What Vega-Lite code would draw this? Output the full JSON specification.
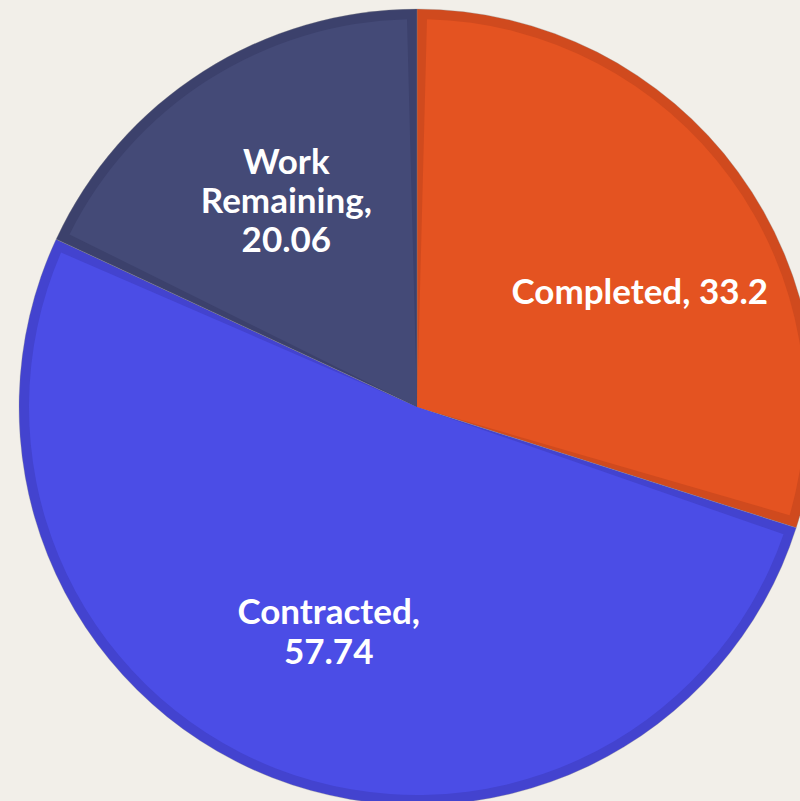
{
  "$schema": "https://vega.github.io/schema/vega-lite/v6.json",
  "width": 834,
  "height": 814,
  "autosize": {"type": "none"},
  "padding": 0,
  "background": "#F2EFE9",
  "config": {"view": {"stroke": null}},
  "data": {
    "values": [
      {"k": 1, "cat": "Completed", "value": 33.2, "label": "Completed, 33.2"},
      {"k": 2, "cat": "Contracted", "value": 57.74, "label": "Contracted,\n57.74"},
      {"k": 3, "cat": "Work Remaining", "value": 20.06, "label": "Work\nRemaining,\n20.06"}
    ]
  },
  "encoding": {
    "theta": {"field": "value", "type": "quantitative", "stack": true},
    "order": {"field": "k", "type": "quantitative"}
  },
  "resolve": {"scale": {"color": "independent"}},
  "layer": [
    {
      "mark": {"type": "arc", "radius": 398, "stroke": "#8a8a8a", "strokeWidth": 0.6, "strokeOpacity": 0.5},
      "encoding": {
        "color": {
          "field": "cat", "type": "nominal",
          "scale": {"domain": ["Completed", "Contracted", "Work Remaining"], "range": ["#D04A1E", "#4343CF", "#3C416C"]},
          "legend": null
        }
      }
    },
    {
      "mark": {"type": "arc", "radius": 388, "padAngle": 0.0515},
      "encoding": {
        "color": {
          "field": "cat", "type": "nominal",
          "scale": {"domain": ["Completed", "Contracted", "Work Remaining"], "range": ["#E45321", "#4B4DE6", "#444A77"]},
          "legend": null
        }
      }
    },
    {
      "mark": {"type": "text", "radius": 243, "dy": -20, "font": "Lato", "fontWeight": "bold", "fontSize": 35, "letterSpacing": 1.3, "lineHeight": 40, "lineBreak": "\n", "align": "center", "baseline": "middle", "fill": "#FFFFFF"},
      "encoding": {
        "text": {"condition": {"test": "datum.cat === 'Contracted'", "field": "label"}, "value": ""}
      }
    },
    {
      "mark": {"type": "text", "radius": 243, "dy": -39, "font": "Lato", "fontWeight": "bold", "fontSize": 35, "letterSpacing": 1.3, "lineHeight": 39, "lineBreak": "\n", "align": "center", "baseline": "middle", "fill": "#FFFFFF"},
      "encoding": {
        "text": {"condition": {"test": "datum.cat === 'Work Remaining'", "field": "label"}, "value": ""}
      }
    },
    {
      "mark": {"type": "text", "radius": 245, "dx": 25, "dy": 31, "font": "Lato", "fontWeight": "bold", "fontSize": 35, "letterSpacing": 1.3, "lineHeight": 39, "lineBreak": "\n", "align": "center", "baseline": "middle", "fill": "#FFFFFF"},
      "encoding": {
        "text": {"condition": {"test": "datum.cat === 'Completed'", "field": "label"}, "value": ""}
      }
    }
  ]
}
